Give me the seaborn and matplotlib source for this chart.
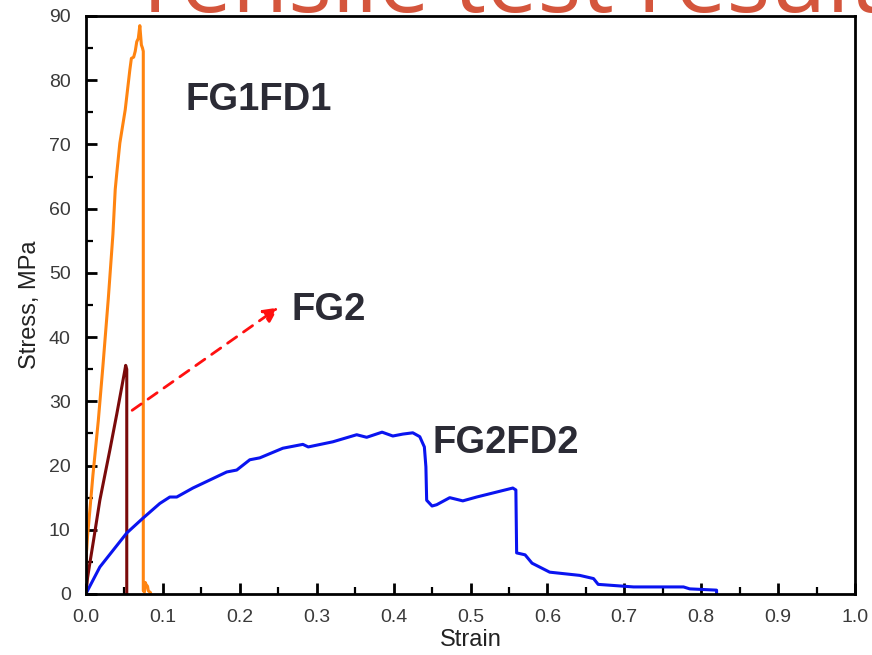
import numpy as np
import pandas as pd
import matplotlib
matplotlib.use("Agg")
import matplotlib.pyplot as plt
import seaborn as sns
from matplotlib.ticker import MultipleLocator

# Stress-strain curves (strain, stress in MPa)
fg1fd1_strain = [0.0, 0.0005, 0.001, 0.002, 0.005, 0.009, 0.016, 0.022, 0.029, 0.035, 0.038, 0.040,
                 0.044, 0.051, 0.057, 0.059, 0.062, 0.064, 0.066, 0.068, 0.070, 0.071,
                 0.072, 0.0735, 0.0745, 0.0745, 0.076, 0.077, 0.078, 0.080, 0.081, 0.083, 0.084]
fg1fd1_stress = [0.0, 6.5, 7.0, 9.0, 13.0, 18.5, 27.0, 35.5, 46.0, 56.0, 63.0, 65.5,
                 70.2, 75.4, 81.6, 83.4, 83.6, 84.5, 86.0, 86.5, 88.5, 87.0,
                 85.5, 85.0, 84.5, 0.5, 0.3, 1.8, 1.5, 1.2, 0.5, 0.3, 0.2]

fg2_strain = [0.0, 0.002, 0.005, 0.010, 0.018, 0.031, 0.040, 0.050, 0.0516, 0.053, 0.053]
fg2_stress = [0.0, 2.5, 4.8, 8.5, 14.6, 22.4, 28.0, 34.5, 35.6, 35.0, 0.0]

fg2fd2_strain = [0.0, 0.001, 0.018, 0.053, 0.074, 0.096, 0.109, 0.118, 0.139, 0.183,
                 0.196, 0.213, 0.226, 0.256, 0.282, 0.289, 0.321, 0.352, 0.365, 0.385,
                 0.399, 0.412, 0.425, 0.434, 0.440, 0.442, 0.443, 0.450, 0.456, 0.473,
                 0.490, 0.508, 0.555, 0.559, 0.560, 0.571, 0.580, 0.603, 0.642, 0.660,
                 0.666, 0.712, 0.777, 0.785, 0.820, 0.820]
fg2fd2_stress = [0.0, 0.3, 4.2, 9.5, 11.8, 14.1, 15.1, 15.1, 16.5, 19.0,
                 19.3, 20.9, 21.2, 22.7, 23.3, 22.9, 23.7, 24.8, 24.4, 25.2,
                 24.6, 24.9, 25.1, 24.5, 22.9, 19.8, 14.6, 13.7, 13.9, 15.0,
                 14.5, 15.1, 16.5, 16.2, 6.4, 6.1, 4.8, 3.4, 2.9, 2.4,
                 1.5, 1.1, 1.1, 0.8, 0.6, 0.0]

x_ticks = [0.0, 0.1, 0.2, 0.3, 0.4, 0.5, 0.6, 0.7, 0.8, 0.9, 1.0]
y_ticks = [0, 10, 20, 30, 40, 50, 60, 70, 80, 90]

sns.set_style("white")
plt.rcParams["font.family"] = ["Liberation Sans", "DejaVu Sans"]

fig = plt.figure(figsize=(8.72, 6.55), dpi=100)

# Slide heading, partly running off the top edge of the figure
fig.text(130 / 872, 1 - 12 / 655, "Tensile test result", fontsize=66,
         color="#D4553C", ha="left", va="baseline", family=["Open Sans", "DejaVu Sans"],
         zorder=0)

ax = fig.add_axes([86 / 872, 1 - 594 / 655, 769 / 872, 578 / 655])
ax.patch.set_alpha(0)

curves = [
    (fg1fd1_strain, fg1fd1_stress, "#FF8410"),
    (fg2_strain, fg2_stress, "#7A0A0A"),
    (fg2fd2_strain, fg2fd2_stress, "#0A14F0"),
]
for xs, ys, col in curves:
    df = pd.DataFrame({"Strain": xs, "Stress": ys})
    sns.lineplot(data=df, x="Strain", y="Stress", sort=False, estimator=None,
                 color=col, linewidth=2.2, ax=ax)

ax.set_xlim(0, 1.0)
ax.set_ylim(0, 90)
ax.set_xticks(x_ticks)
ax.set_yticks(y_ticks)
ax.set_xticklabels([f"{v:.1f}" for v in x_ticks])
ax.set_yticklabels([str(v) for v in y_ticks])
ax.xaxis.set_minor_locator(MultipleLocator(0.05))
ax.yaxis.set_minor_locator(MultipleLocator(5))
ax.tick_params(which="major", direction="in", length=8, width=2, color="black",
               labelsize=14, labelcolor="#3A3A3A", bottom=True, left=True,
               top=False, right=False)
ax.tick_params(axis="x", which="major", pad=11)
ax.tick_params(axis="y", which="major", pad=11)
ax.tick_params(which="minor", direction="in", length=5, width=1.6, color="black",
               bottom=True, left=True, top=False, right=False)
for s in ax.spines.values():
    s.set_visible(True)
    s.set_color("black")
    s.set_linewidth(2)

ax.set_xlabel("Strain", fontsize=17, color="#222222", labelpad=2)
ax.set_ylabel("Stress, MPa", fontsize=17, color="#222222", labelpad=6)

label_kw = dict(fontsize=27.5, fontweight="bold", color="#2B2B35", va="center", ha="left")
ax.text(0.129, 76.9, "FG1FD1", **label_kw)
ax.text(0.267, 44.2, "FG2", **label_kw)
ax.text(0.450, 23.5, "FG2FD2", **label_kw)

ax.annotate("", xy=(0.250, 44.6), xytext=(0.060, 28.6),
            arrowprops=dict(arrowstyle="-|>", color="#FF1010", lw=2,
                            linestyle=(0, (4, 3)), mutation_scale=22,
                            shrinkA=0, shrinkB=0))

fig.savefig("out.png", dpi=100)
